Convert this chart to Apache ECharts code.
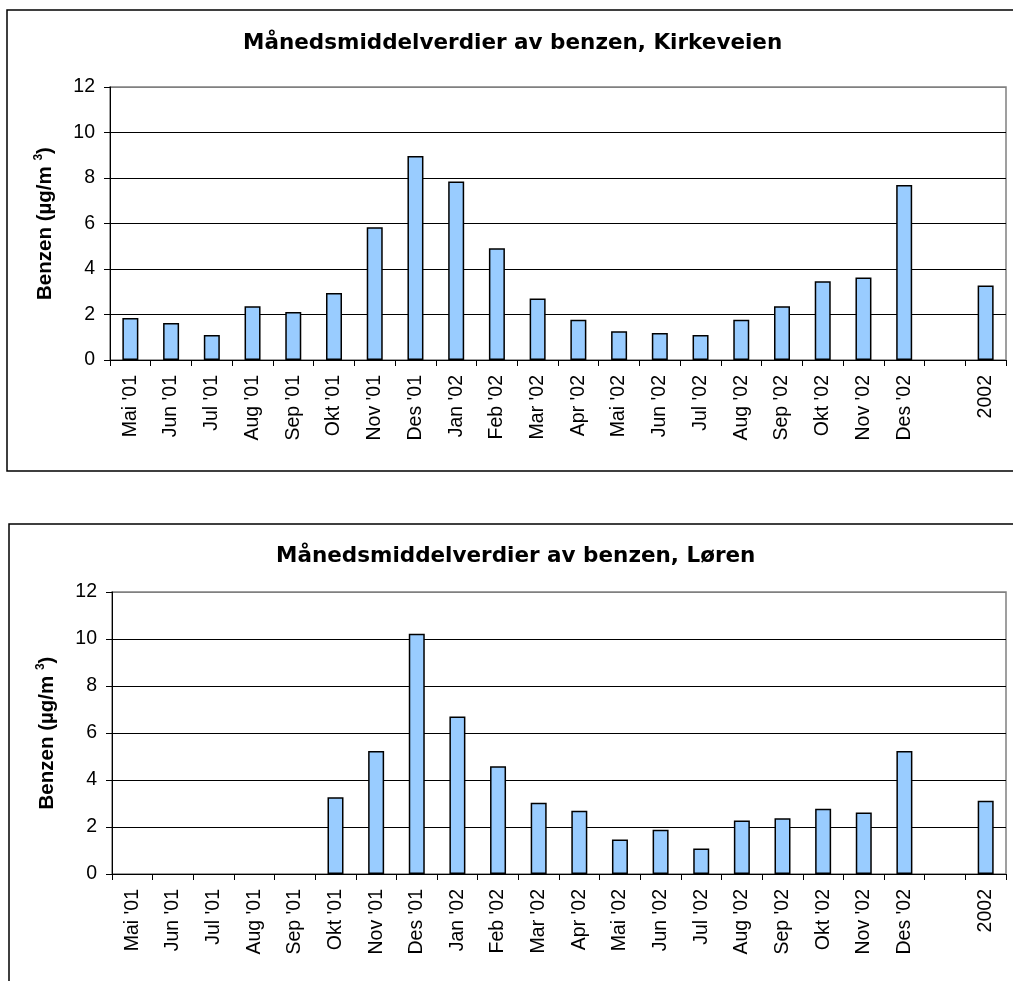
<!DOCTYPE html>
<html>
<head>
<meta charset="utf-8">
<script src="https://cdn.jsdelivr.net/npm/echarts@6/dist/echarts.min.js"></script>
<style>
html,body{margin:0;padding:0;background:#fff;}
#chart{width:1013px;height:981px;}
</style>
</head>
<body>
<div id="chart"></div>
<script>
// ---- data ----
const categories = ["Mai '01","Jun '01","Jul '01","Aug '01","Sep '01","Okt '01","Nov '01","Des '01",
  "Jan '02","Feb '02","Mar '02","Apr '02","Mai '02","Jun '02","Jul '02","Aug '02","Sep '02","Okt '02","Nov '02","Des '02","","2002"];
const kirkeveien = [1.85,1.63,1.10,2.36,2.11,2.95,5.83,8.97,7.85,4.91,2.70,1.77,1.26,1.19,1.10,1.77,2.36,3.46,3.63,7.69,null,3.28];
const loren = [null,null,null,null,null,3.27,5.23,10.22,6.70,4.59,3.03,2.69,1.47,1.88,1.08,2.28,2.37,2.78,2.62,5.23,null,3.12];
const titles = ["Månedsmiddelverdier av benzen, Kirkeveien","Månedsmiddelverdier av benzen, Løren"];
const yName = "{b|Benzen (µg/m }{s|3}{b|)}";
const yMin = 0, yMax = 12, yStep = 2;

const FONT = "'Liberation Sans', Arial, sans-serif";
const TFONT = "'DejaVu Sans', sans-serif";

function xAxis(gi){
  return {
    type:'category', gridIndex:gi, data:categories, boundaryGap:true,
    axisLine:{show:true, lineStyle:{color:'#000', width:1}},
    axisTick:{show:true, inside:false, length:6, interval:0, alignWithLabel:false, lineStyle:{color:'#000'}},
    axisLabel:{interval:0, rotate:90, margin:15, color:'#000', fontFamily:FONT, fontSize:19.5},
    splitLine:{show:false}
  };
}
function yAxis(gi){
  return {
    type:'value', gridIndex:gi, min:yMin, max:yMax, interval:yStep,
    name:yName, nameLocation:'middle', nameRotate:90, nameGap:53,
    nameTextStyle:{rich:{
      b:{fontFamily:FONT, fontWeight:'bold', fontSize:20.5, color:'#000', lineHeight:24},
      s:{fontFamily:FONT, fontWeight:'bold', fontSize:12, color:'#000', lineHeight:24, verticalAlign:'top'}
    }},
    axisLine:{show:true, lineStyle:{color:'#000', width:1}},
    axisTick:{show:true, inside:false, length:6, lineStyle:{color:'#000'}},
    axisLabel:{margin:15, color:'#000', fontFamily:FONT, fontSize:19.5},
    splitLine:{show:true, lineStyle:{color:['#000','#000','#000','#000','#000','#000','#808080'], width:1}}
  };
}
function barSeries(gi, data){
  return {
    type:'bar', xAxisIndex:gi, yAxisIndex:gi, data:data, barWidth:16,
    itemStyle:{color:'#99CCFF', borderColor:'#000', borderWidth:1.5},
    emphasis:{disabled:true}, silent:true
  };
}

const chart = echarts.init(document.getElementById('chart'), null, {renderer:'canvas'});
chart.setOption({
  animation:false,
  backgroundColor:'#fff',
  title:[
    {text:titles[0], left:238, top:27, textStyle:{fontFamily:TFONT, fontWeight:'bold', fontSize:21.5, color:'#000'}},
    {text:titles[1], left:271, top:540, textStyle:{fontFamily:TFONT, fontWeight:'bold', fontSize:21.5, color:'#000'}}
  ],
  graphic:[
    {type:'rect', shape:{x:7, y:10, width:1030, height:461}, style:{fill:null, stroke:'#000', lineWidth:1.5}, silent:true, z:-1},
    {type:'rect', shape:{x:9, y:524, width:1030, height:600}, style:{fill:null, stroke:'#000', lineWidth:1.5}, silent:true, z:-1}
  ],
  grid:[
    {left:110, top:87, width:896, height:273, show:true, borderColor:'#808080', borderWidth:1.5, backgroundColor:'transparent'},
    {left:112, top:592, width:894, height:282, show:true, borderColor:'#808080', borderWidth:1.5, backgroundColor:'transparent'}
  ],
  xAxis:[xAxis(0), xAxis(1)],
  yAxis:[yAxis(0), yAxis(1)],
  series:[barSeries(0, kirkeveien), barSeries(1, loren)]
});
</script>
</body>
</html>
